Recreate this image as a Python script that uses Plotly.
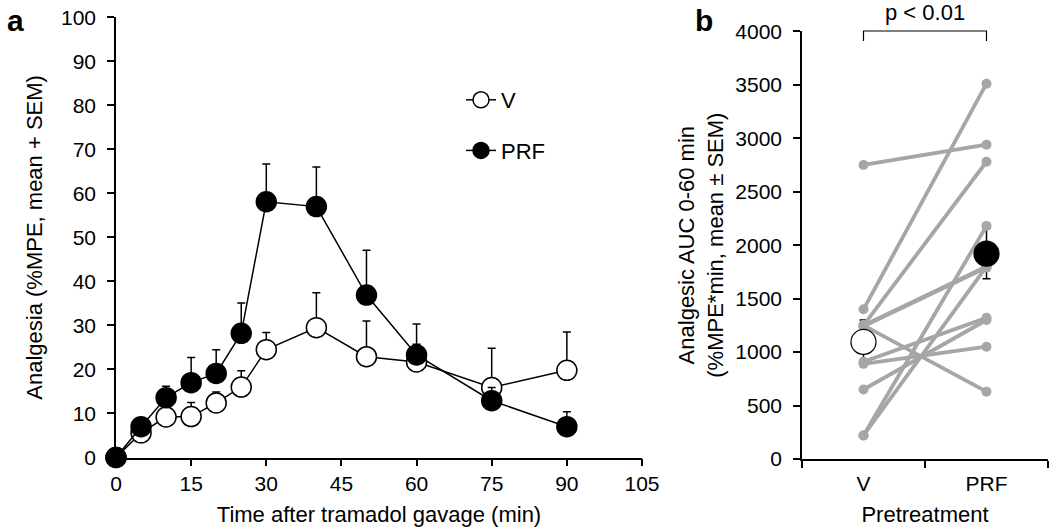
import plotly.graph_objects as go

# ---------------- Panel a data ----------------
time_min = [0, 5, 10, 15, 20, 25, 30, 40, 50, 60, 75, 90]
v_mean = [0, 5.6, 9.2, 9.3, 12.4, 16.0, 24.5, 29.5, 22.9, 21.7, 15.9, 19.8]
v_sem = [0, 1.5, 3.0, 3.2, 2.5, 3.7, 3.9, 7.9, 8.1, 4.0, 8.9, 8.7]
prf_mean = [0, 7.0, 13.6, 17.0, 19.1, 28.2, 58.1, 57.0, 36.9, 23.3, 12.9, 7.0]
prf_sem = [0, 1.5, 2.6, 5.7, 5.4, 6.9, 8.6, 9.0, 10.2, 7.0, 3.0, 3.4]
x_ticks_a = [0, 15, 30, 45, 60, 75, 90, 105]
y_ticks_a = [0, 10, 20, 30, 40, 50, 60, 70, 80, 90, 100]

# ---------------- Panel b data ----------------
groups = ["V", "PRF"]
auc_v = [2750, 1400, 1250, 1250, 1240, 1250, 910, 890, 650, 220, 220]
auc_prf = [2940, 3510, 2780, 1800, 1790, 630, 1320, 1050, 1300, 2180, 1800]
auc_mean = [1095, 1920]
auc_sem = [205, 235]
y_ticks_b = [0, 500, 1000, 1500, 2000, 2500, 3000, 3500, 4000]

FONT = "Arial, Liberation Sans, sans-serif"
GREY = "#a6a6a6"
FS = 21
FT = 22

fig = go.Figure()

# Panel a series
fig.add_trace(go.Scatter(
    x=time_min, y=v_mean, name="V", legendgroup="v",
    mode="lines+markers",
    line=dict(color="black", width=1.5),
    marker=dict(size=20, color="white", line=dict(color="black", width=1.5)),
    error_y=dict(type="data", symmetric=False, array=v_sem,
                 arrayminus=[0] * len(v_sem), color="black", thickness=1.5, width=4),
    xaxis="x", yaxis="y", cliponaxis=False,
))
fig.add_trace(go.Scatter(
    x=time_min, y=prf_mean, name="PRF", legendgroup="prf",
    mode="lines+markers",
    line=dict(color="black", width=1.5),
    marker=dict(size=20, color="black", line=dict(color="black", width=1.5)),
    error_y=dict(type="data", symmetric=False, array=prf_sem,
                 arrayminus=[0] * len(prf_sem), color="black", thickness=1.5, width=4),
    xaxis="x", yaxis="y", cliponaxis=False,
))

# Panel b: error bars first (behind the individual lines)
for i, g in enumerate(groups):
    fig.add_trace(go.Scatter(
        x=[g], y=[auc_mean[i]], mode="markers",
        marker=dict(size=1, color="rgba(0,0,0,0)"),
        error_y=dict(type="data", array=[auc_sem[i]], color="black",
                     thickness=1.5, width=4),
        xaxis="x2", yaxis="y2", showlegend=False, hoverinfo="skip",
    ))

# individual subjects
for a, b in zip(auc_v, auc_prf):
    fig.add_trace(go.Scatter(
        x=groups, y=[a, b], mode="lines+markers",
        line=dict(color=GREY, width=3.8),
        marker=dict(size=10, color=GREY),
        xaxis="x2", yaxis="y2", showlegend=False,
    ))

# group means
fig.add_trace(go.Scatter(
    x=[groups[0]], y=[auc_mean[0]], mode="markers",
    marker=dict(size=25, color="white", line=dict(color="black", width=1.2)),
    xaxis="x2", yaxis="y2", showlegend=False,
))
fig.add_trace(go.Scatter(
    x=[groups[1]], y=[auc_mean[1]], mode="markers",
    marker=dict(size=25, color="black", line=dict(color="black", width=1.2)),
    xaxis="x2", yaxis="y2", showlegend=False,
))

W, H = 1050, 527
axis_common = dict(showline=True, linecolor="black", linewidth=1.5,
                   ticks="outside", ticklen=7, tickwidth=1.5, tickcolor="black",
                   showgrid=False, zeroline=False, automargin=False,
                   tickfont=dict(family=FONT, size=FS, color="black"))

fig.update_layout(
    template="none",
    width=W, height=H,
    margin=dict(l=0, r=0, t=0, b=0, pad=0),
    paper_bgcolor="white", plot_bgcolor="white",
    font=dict(family=FONT, color="black"),
    showlegend=True,
    legend=dict(x=461 / W, y=1 - 79 / H, xanchor="left", yanchor="top",
                bgcolor="rgba(0,0,0,0)", font=dict(family=FONT, size=FT),
                traceorder="grouped", tracegroupgap=19),
    xaxis=dict(domain=[116 / W, 642 / W], range=[0, 105], tickvals=x_ticks_a,
               anchor="y", ticklabelstandoff=0,
               title=dict(text="Time after tramadol gavage (min)",
                          font=dict(family=FONT, size=FT), standoff=12),
               **axis_common),
    yaxis=dict(domain=[1 - 457.5 / H, 1 - 17.3 / H], range=[0, 100], tickvals=y_ticks_a,
               anchor="x", ticklabelstandoff=7,
               title=dict(text="Analgesia (%MPE, mean + SEM)",
                          font=dict(family=FONT, size=FT), standoff=12),
               **axis_common),
    xaxis2=dict(domain=[802 / W, 1048 / W], type="category", categoryarray=groups,
                range=[-0.5, 1.5], tickson="boundaries", anchor="y2",
                ticklabelstandoff=5,
                title=dict(text="Pretreatment", font=dict(family=FONT, size=FT), standoff=13),
                **axis_common),
    yaxis2=dict(domain=[1 - 459 / H, 1 - 31.3 / H], range=[0, 4000], tickvals=y_ticks_b,
                anchor="x2", ticklabelstandoff=7,
                title=dict(text="Analgesic AUC 0-60 min<br>(%MPE*min, mean ± SEM)",
                           font=dict(family=FONT, size=FT), standoff=6),
                **axis_common),
    shapes=[
        dict(type="path", xref="x2", yref="paper",
             path=f"M 0,{1 - 41 / H} L 0,{1 - 31 / H} L 1,{1 - 31 / H} L 1,{1 - 41 / H}",
             line=dict(color="black", width=1.2)),
    ],
    annotations=[
        dict(text="p < 0.01", xref="x2", yref="paper", x=0.5, y=1 - 13 / H,
             xanchor="center", yanchor="middle",
             showarrow=False, font=dict(family=FONT, size=FT)),
        dict(text="<b>a</b>", xref="paper", yref="paper", x=5 / W, y=1 - 21 / H,
             xanchor="left", yanchor="middle", showarrow=False, font=dict(family=FONT, size=30)),
        dict(text="<b>b</b>", xref="paper", yref="paper", x=693 / W, y=1 - 21 / H,
             xanchor="left", yanchor="middle", showarrow=False, font=dict(family=FONT, size=30)),
    ],
)

fig.write_html("out.html", config={"displayModeBar": False},
               post_script="document.body.style.margin='0';document.body.style.overflow='hidden';")
